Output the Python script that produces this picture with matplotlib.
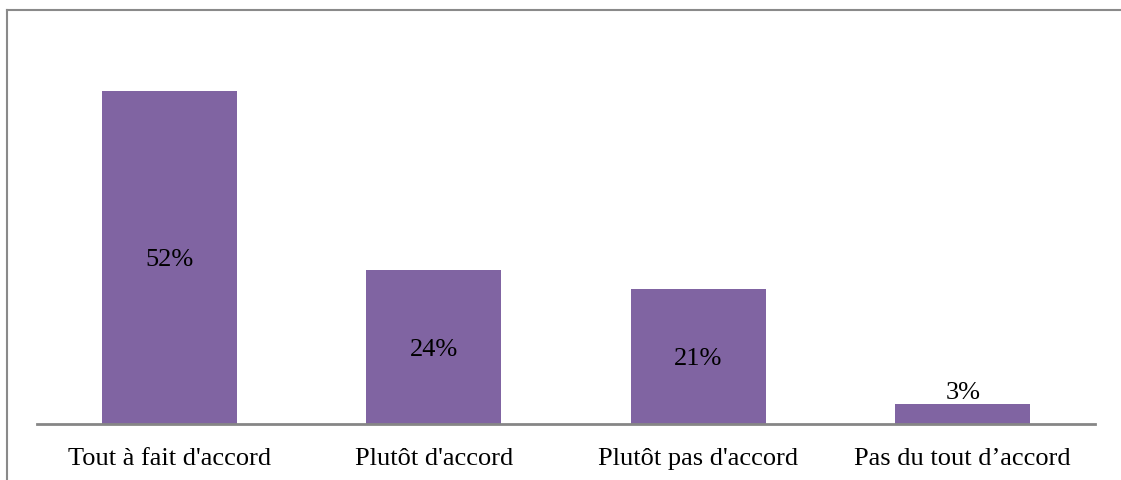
import matplotlib
matplotlib.use("Agg")
import matplotlib.pyplot as plt
from matplotlib.lines import Line2D
import matplotlib.transforms as mtransforms

categories = ["Tout à fait d'accord", "Plutôt d'accord", "Plutôt pas d'accord", "Pas du tout d\u2019accord"]
values = [52, 24, 21, 3]
labels = ["52%", "24%", "21%", "3%"]

W, H = 1121, 480
fig = plt.figure(figsize=(W / 100, H / 100), dpi=100)
plt.rcParams['font.family'] = ['Liberation Serif', 'DejaVu Serif']

ax = fig.add_axes([37 / W, 1 - 423.5 / H, 1058 / W, (423.5 - 39.5) / H])
x = list(range(len(categories)))
ax.bar(x, values, width=0.51, color='#8064A2', edgecolor='none')
ax.set_xlim(-0.5, len(categories) - 0.5)
ax.set_ylim(0, 60)

FS = 19
down = mtransforms.offset_copy(ax.transData, fig=fig, x=0, y=-3, units='dots')
for xi, v, lab in zip(x, values, labels):
    if v >= 10:
        ax.text(xi, v / 2, lab, ha='center', va='center', fontsize=FS, color='black', transform=down)
    else:
        ax.text(xi, v, lab, ha='center', va='bottom', fontsize=FS, color='black')

ax.set_xticks(x)
ax.set_xticklabels(categories, fontsize=FS, va='baseline')
ax.tick_params(axis='x', length=0, pad=30)
ax.set_yticks([])
for s in ['top', 'right', 'left']:
    ax.spines[s].set_visible(False)
ax.spines['bottom'].set_color('#868686')
ax.spines['bottom'].set_linewidth(2)

# outer frame (top and left)
fig.add_artist(Line2D([7 / W, 7 / W], [0, 1 - 9.5 / H], transform=fig.transFigure, color='#8a8a8a', lw=1.5))
fig.add_artist(Line2D([7 / W, 1], [1 - 9.5 / H, 1 - 9.5 / H], transform=fig.transFigure, color='#8a8a8a', lw=1.5))

fig.savefig("out.png", dpi=100)
